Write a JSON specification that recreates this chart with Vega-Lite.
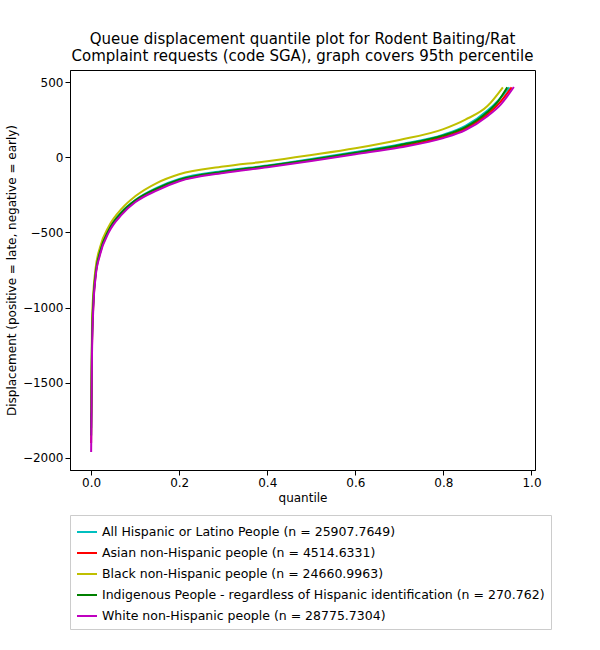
{
  "$schema": "https://vega.github.io/schema/vega-lite/v6.json",
  "width": 465,
  "height": 400,
  "padding": {"left": 5, "top": 32, "right": 50, "bottom": 5},
  "config": {"font": "DejaVu Sans", "view": {"stroke": "black"}},
  "title": {"text": ["Queue displacement quantile plot for Rodent Baiting/Rat", "Complaint  requests (code SGA), graph covers 95th percentile"], "fontSize": 15, "fontWeight": "normal", "color": "black", "offset": 6},
  "data": {"values": [
    {"g": "All Hispanic or Latino People (n = 25907.7649)", "q": 0, "d": -1800},
    {"g": "All Hispanic or Latino People (n = 25907.7649)", "q": 0.002, "d": -1200},
    {"g": "All Hispanic or Latino People (n = 25907.7649)", "q": 0.005, "d": -950},
    {"g": "All Hispanic or Latino People (n = 25907.7649)", "q": 0.01, "d": -770},
    {"g": "All Hispanic or Latino People (n = 25907.7649)", "q": 0.02, "d": -625},
    {"g": "All Hispanic or Latino People (n = 25907.7649)", "q": 0.04, "d": -480},
    {"g": "All Hispanic or Latino People (n = 25907.7649)", "q": 0.07, "d": -360},
    {"g": "All Hispanic or Latino People (n = 25907.7649)", "q": 0.1, "d": -285},
    {"g": "All Hispanic or Latino People (n = 25907.7649)", "q": 0.15, "d": -202},
    {"g": "All Hispanic or Latino People (n = 25907.7649)", "q": 0.2, "d": -145},
    {"g": "All Hispanic or Latino People (n = 25907.7649)", "q": 0.3, "d": -92},
    {"g": "All Hispanic or Latino People (n = 25907.7649)", "q": 0.4, "d": -55},
    {"g": "All Hispanic or Latino People (n = 25907.7649)", "q": 0.5, "d": -12},
    {"g": "All Hispanic or Latino People (n = 25907.7649)", "q": 0.6, "d": 35},
    {"g": "All Hispanic or Latino People (n = 25907.7649)", "q": 0.7, "d": 85},
    {"g": "All Hispanic or Latino People (n = 25907.7649)", "q": 0.8, "d": 150},
    {"g": "All Hispanic or Latino People (n = 25907.7649)", "q": 0.85, "d": 208},
    {"g": "All Hispanic or Latino People (n = 25907.7649)", "q": 0.9, "d": 310},
    {"g": "All Hispanic or Latino People (n = 25907.7649)", "q": 0.925, "d": 380},
    {"g": "All Hispanic or Latino People (n = 25907.7649)", "q": 0.95, "d": 465},
    {"g": "Asian non-Hispanic people (n = 4514.6331)", "q": 0, "d": -1900},
    {"g": "Asian non-Hispanic people (n = 4514.6331)", "q": 0.002, "d": -1250},
    {"g": "Asian non-Hispanic people (n = 4514.6331)", "q": 0.005, "d": -980},
    {"g": "Asian non-Hispanic people (n = 4514.6331)", "q": 0.01, "d": -790},
    {"g": "Asian non-Hispanic people (n = 4514.6331)", "q": 0.02, "d": -640},
    {"g": "Asian non-Hispanic people (n = 4514.6331)", "q": 0.04, "d": -490},
    {"g": "Asian non-Hispanic people (n = 4514.6331)", "q": 0.07, "d": -370},
    {"g": "Asian non-Hispanic people (n = 4514.6331)", "q": 0.1, "d": -292},
    {"g": "Asian non-Hispanic people (n = 4514.6331)", "q": 0.15, "d": -212},
    {"g": "Asian non-Hispanic people (n = 4514.6331)", "q": 0.2, "d": -155},
    {"g": "Asian non-Hispanic people (n = 4514.6331)", "q": 0.3, "d": -100},
    {"g": "Asian non-Hispanic people (n = 4514.6331)", "q": 0.4, "d": -62},
    {"g": "Asian non-Hispanic people (n = 4514.6331)", "q": 0.5, "d": -20},
    {"g": "Asian non-Hispanic people (n = 4514.6331)", "q": 0.6, "d": 25},
    {"g": "Asian non-Hispanic people (n = 4514.6331)", "q": 0.7, "d": 72},
    {"g": "Asian non-Hispanic people (n = 4514.6331)", "q": 0.8, "d": 135},
    {"g": "Asian non-Hispanic people (n = 4514.6331)", "q": 0.85, "d": 190},
    {"g": "Asian non-Hispanic people (n = 4514.6331)", "q": 0.9, "d": 285},
    {"g": "Asian non-Hispanic people (n = 4514.6331)", "q": 0.93, "d": 370},
    {"g": "Asian non-Hispanic people (n = 4514.6331)", "q": 0.955, "d": 465},
    {"g": "Black non-Hispanic people (n = 24660.9963)", "q": 0, "d": -1700},
    {"g": "Black non-Hispanic people (n = 24660.9963)", "q": 0.002, "d": -1100},
    {"g": "Black non-Hispanic people (n = 24660.9963)", "q": 0.005, "d": -900},
    {"g": "Black non-Hispanic people (n = 24660.9963)", "q": 0.01, "d": -740},
    {"g": "Black non-Hispanic people (n = 24660.9963)", "q": 0.02, "d": -600},
    {"g": "Black non-Hispanic people (n = 24660.9963)", "q": 0.04, "d": -460},
    {"g": "Black non-Hispanic people (n = 24660.9963)", "q": 0.07, "d": -340},
    {"g": "Black non-Hispanic people (n = 24660.9963)", "q": 0.1, "d": -260},
    {"g": "Black non-Hispanic people (n = 24660.9963)", "q": 0.15, "d": -170},
    {"g": "Black non-Hispanic people (n = 24660.9963)", "q": 0.2, "d": -113},
    {"g": "Black non-Hispanic people (n = 24660.9963)", "q": 0.3, "d": -62},
    {"g": "Black non-Hispanic people (n = 24660.9963)", "q": 0.4, "d": -27},
    {"g": "Black non-Hispanic people (n = 24660.9963)", "q": 0.5, "d": 15},
    {"g": "Black non-Hispanic people (n = 24660.9963)", "q": 0.6, "d": 60},
    {"g": "Black non-Hispanic people (n = 24660.9963)", "q": 0.7, "d": 115},
    {"g": "Black non-Hispanic people (n = 24660.9963)", "q": 0.8, "d": 187},
    {"g": "Black non-Hispanic people (n = 24660.9963)", "q": 0.85, "d": 250},
    {"g": "Black non-Hispanic people (n = 24660.9963)", "q": 0.9, "d": 340},
    {"g": "Black non-Hispanic people (n = 24660.9963)", "q": 0.935, "d": 465},
    {"g": "Indigenous People - regardless of Hispanic identification (n = 270.762)", "q": 0, "d": -1850},
    {"g": "Indigenous People - regardless of Hispanic identification (n = 270.762)", "q": 0.002, "d": -1220},
    {"g": "Indigenous People - regardless of Hispanic identification (n = 270.762)", "q": 0.005, "d": -960},
    {"g": "Indigenous People - regardless of Hispanic identification (n = 270.762)", "q": 0.01, "d": -780},
    {"g": "Indigenous People - regardless of Hispanic identification (n = 270.762)", "q": 0.02, "d": -630},
    {"g": "Indigenous People - regardless of Hispanic identification (n = 270.762)", "q": 0.04, "d": -485},
    {"g": "Indigenous People - regardless of Hispanic identification (n = 270.762)", "q": 0.07, "d": -365},
    {"g": "Indigenous People - regardless of Hispanic identification (n = 270.762)", "q": 0.1, "d": -288},
    {"g": "Indigenous People - regardless of Hispanic identification (n = 270.762)", "q": 0.15, "d": -207},
    {"g": "Indigenous People - regardless of Hispanic identification (n = 270.762)", "q": 0.2, "d": -150},
    {"g": "Indigenous People - regardless of Hispanic identification (n = 270.762)", "q": 0.3, "d": -96},
    {"g": "Indigenous People - regardless of Hispanic identification (n = 270.762)", "q": 0.4, "d": -58},
    {"g": "Indigenous People - regardless of Hispanic identification (n = 270.762)", "q": 0.5, "d": -16},
    {"g": "Indigenous People - regardless of Hispanic identification (n = 270.762)", "q": 0.6, "d": 30},
    {"g": "Indigenous People - regardless of Hispanic identification (n = 270.762)", "q": 0.7, "d": 80},
    {"g": "Indigenous People - regardless of Hispanic identification (n = 270.762)", "q": 0.8, "d": 145},
    {"g": "Indigenous People - regardless of Hispanic identification (n = 270.762)", "q": 0.85, "d": 200},
    {"g": "Indigenous People - regardless of Hispanic identification (n = 270.762)", "q": 0.9, "d": 300},
    {"g": "Indigenous People - regardless of Hispanic identification (n = 270.762)", "q": 0.925, "d": 375},
    {"g": "Indigenous People - regardless of Hispanic identification (n = 270.762)", "q": 0.945, "d": 465},
    {"g": "White non-Hispanic people (n = 28775.7304)", "q": 0, "d": -1960},
    {"g": "White non-Hispanic people (n = 28775.7304)", "q": 0.002, "d": -1300},
    {"g": "White non-Hispanic people (n = 28775.7304)", "q": 0.005, "d": -1000},
    {"g": "White non-Hispanic people (n = 28775.7304)", "q": 0.01, "d": -800},
    {"g": "White non-Hispanic people (n = 28775.7304)", "q": 0.02, "d": -650},
    {"g": "White non-Hispanic people (n = 28775.7304)", "q": 0.04, "d": -500},
    {"g": "White non-Hispanic people (n = 28775.7304)", "q": 0.07, "d": -380},
    {"g": "White non-Hispanic people (n = 28775.7304)", "q": 0.1, "d": -300},
    {"g": "White non-Hispanic people (n = 28775.7304)", "q": 0.15, "d": -220},
    {"g": "White non-Hispanic people (n = 28775.7304)", "q": 0.2, "d": -160},
    {"g": "White non-Hispanic people (n = 28775.7304)", "q": 0.3, "d": -105},
    {"g": "White non-Hispanic people (n = 28775.7304)", "q": 0.4, "d": -67},
    {"g": "White non-Hispanic people (n = 28775.7304)", "q": 0.5, "d": -25},
    {"g": "White non-Hispanic people (n = 28775.7304)", "q": 0.6, "d": 20},
    {"g": "White non-Hispanic people (n = 28775.7304)", "q": 0.7, "d": 65},
    {"g": "White non-Hispanic people (n = 28775.7304)", "q": 0.8, "d": 127},
    {"g": "White non-Hispanic people (n = 28775.7304)", "q": 0.85, "d": 180},
    {"g": "White non-Hispanic people (n = 28775.7304)", "q": 0.9, "d": 273},
    {"g": "White non-Hispanic people (n = 28775.7304)", "q": 0.93, "d": 350},
    {"g": "White non-Hispanic people (n = 28775.7304)", "q": 0.96, "d": 467}
  ]},
  "mark": {"type": "line", "interpolate": "monotone", "strokeWidth": 2},
  "encoding": {
    "x": {"field": "q", "type": "quantitative", "title": "quantile", "scale": {"domain": [-0.048, 1.008], "nice": false, "zero": false},
      "axis": {"grid": false, "values": [0, 0.2, 0.4, 0.6, 0.8, 1], "format": ".1f", "labelFontSize": 12, "titleFontSize": 12, "titleFontWeight": "normal", "labelColor": "black", "titleColor": "black", "domainColor": "black", "tickColor": "black"}},
    "y": {"field": "d", "type": "quantitative", "title": "Displacement (positive = late, negative = early)", "scale": {"domain": [-2080, 580], "nice": false, "zero": false},
      "axis": {"grid": false, "values": [-2000, -1500, -1000, -500, 0, 500], "format": "d", "labelFontSize": 12, "titleFontSize": 12, "titleFontWeight": "normal", "labelColor": "black", "titleColor": "black", "domainColor": "black", "tickColor": "black"}},
    "color": {"field": "g", "type": "nominal", "title": null,
      "scale": {"range": ["#00bfbf", "#ff0000", "#bfbf00", "#008000", "#bf00bf"]},
      "legend": {"orient": "bottom", "direction": "vertical", "columns": 1, "symbolType": "stroke", "symbolStrokeWidth": 2, "symbolSize": 400, "labelFontSize": 12.5, "labelLimit": 600, "labelColor": "black", "strokeColor": "#cccccc", "padding": 6, "rowPadding": 3, "offset": 12}}
  }
}
